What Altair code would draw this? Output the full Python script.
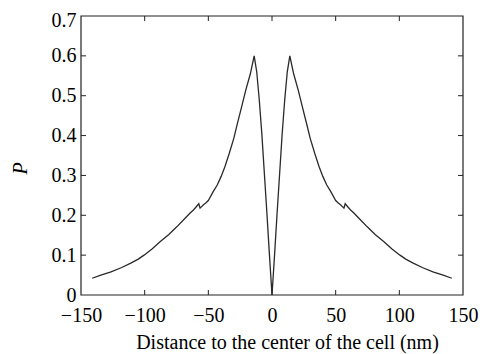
import altair as alt
import pandas as pd

# Distance (nm) and probability P
distance = [-141.2, -135.0, -126.4, -118.0, -110.9, -105.0, -100.5, -94.0, -87.7, -81.0,
            -74.8, -69.0, -64.5, -61.5, -59.3, -57.5, -56.5, -54.0, -51.6, -50.0,
            -46.4, -43.0, -40.0, -37.0, -33.6, -30.0, -27.1, -24.0, -20.6, -17.0,
            -14.0, -12.0, -10.0, -8.0, -6.0, -4.0, -2.0, 0.0,
            2.0, 4.0, 6.0, 8.0, 10.0, 12.0, 14.0,
            17.0, 20.6, 24.0, 27.1, 30.0, 33.6, 37.0, 40.0, 43.0, 46.4,
            50.0, 51.6, 54.0, 56.5, 57.5, 59.3, 61.5, 64.5, 69.0, 74.8,
            81.0, 87.7, 94.0, 100.5, 105.0, 110.9, 118.0, 126.4, 135.0, 141.2]
prob = [0.042, 0.049, 0.058, 0.069, 0.080, 0.090, 0.100, 0.116, 0.134, 0.152,
        0.171, 0.190, 0.205, 0.214, 0.222, 0.229, 0.218, 0.226, 0.232, 0.237,
        0.258, 0.276, 0.297, 0.322, 0.355, 0.393, 0.431, 0.470, 0.514, 0.555,
        0.600, 0.560, 0.490, 0.405, 0.305, 0.205, 0.100, 0.000,
        0.100, 0.205, 0.305, 0.405, 0.490, 0.560, 0.600,
        0.555, 0.514, 0.470, 0.431, 0.393, 0.355, 0.322, 0.297, 0.276, 0.258,
        0.237, 0.232, 0.226, 0.218, 0.229, 0.222, 0.214, 0.205, 0.190, 0.171,
        0.152, 0.134, 0.116, 0.100, 0.090, 0.080, 0.069, 0.058, 0.049, 0.042]

x_ticks = [-150, -100, -50, 0, 50, 100, 150]
y_ticks = [0, 0.1, 0.2, 0.3, 0.4, 0.5, 0.6, 0.7]
x_inner_ticks = [-100, -50, 0, 50, 100]
y_inner_ticks = [0.1, 0.2, 0.3, 0.4, 0.5, 0.6]

W, H = 382, 279
TICK = 5
FONT = "Liberation Serif"
INK = "#222222"

df = pd.DataFrame({"d": distance, "p": prob})
xt = pd.DataFrame({"d": x_inner_ticks})
yt = pd.DataFrame({"p": y_inner_ticks})
box = pd.DataFrame({"k": [0]})

xscale = alt.Scale(domain=[-150, 150], nice=False)
yscale = alt.Scale(domain=[0, 0.7], nice=False)

xaxis = alt.Axis(values=x_ticks, title="Distance to the center of the cell (nm)",
                 labelFlush=False, labelOverlap=False, labelBound=False,
                 labelPadding=10, titlePadding=7, titleX=206,
                 ticks=False, domain=False, grid=False)
yaxis = alt.Axis(values=y_ticks, title="P", labelFlush=False, labelOverlap=False,
                 labelBound=False, labelPadding=5,
                 labelOffset={"condition": {"test": "datum.value > 0.65", "value": 4},
                              "value": 0},
                 labelExpr="datum.value == 0 ? '0' : format(datum.value, '.1f')",
                 titleFontStyle="italic", titlePadding=21, titleY=152,
                 ticks=False, domain=False, grid=False)

X = alt.X("d:Q", scale=xscale, axis=xaxis, title="Distance to the center of the cell (nm)")
Y = alt.Y("p:Q", scale=yscale, axis=yaxis, title="P")

line = alt.Chart(df).mark_line(color="#2a2a2a", strokeWidth=1.3).encode(x=X, y=Y)

frame = alt.Chart(box).mark_rect(fill=None, stroke=INK, strokeWidth=1.2).encode(
    x=alt.value(0), x2=alt.value(W), y=alt.value(0), y2=alt.value(H))

bottom = alt.Chart(xt).mark_rule(color=INK, strokeWidth=1).encode(
    x=X, y=alt.value(H), y2=alt.value(H - TICK))
top = alt.Chart(xt).mark_rule(color=INK, strokeWidth=1).encode(
    x=X, y=alt.value(0), y2=alt.value(TICK))
left = alt.Chart(yt).mark_rule(color=INK, strokeWidth=1).encode(
    y=Y, x=alt.value(0), x2=alt.value(TICK))
right = alt.Chart(yt).mark_rule(color=INK, strokeWidth=1).encode(
    y=Y, x=alt.value(W), x2=alt.value(W - TICK))

chart = alt.layer(line, frame, bottom, top, left, right).properties(
    width=W, height=H,
    autosize=alt.AutoSizeParams(type="none"),
    padding={"left": 73, "top": 8, "right": 16, "bottom": 59},
).configure(
    background="white",
).configure_view(
    stroke=None,
).configure_axis(
    labelFont=FONT, labelFontSize=20, labelColor="black",
    titleFont=FONT, titleFontSize=20, titleFontWeight="normal", titleColor="black",
)

chart.save("out.html", embed_options={"renderer": "svg", "actions": False})
